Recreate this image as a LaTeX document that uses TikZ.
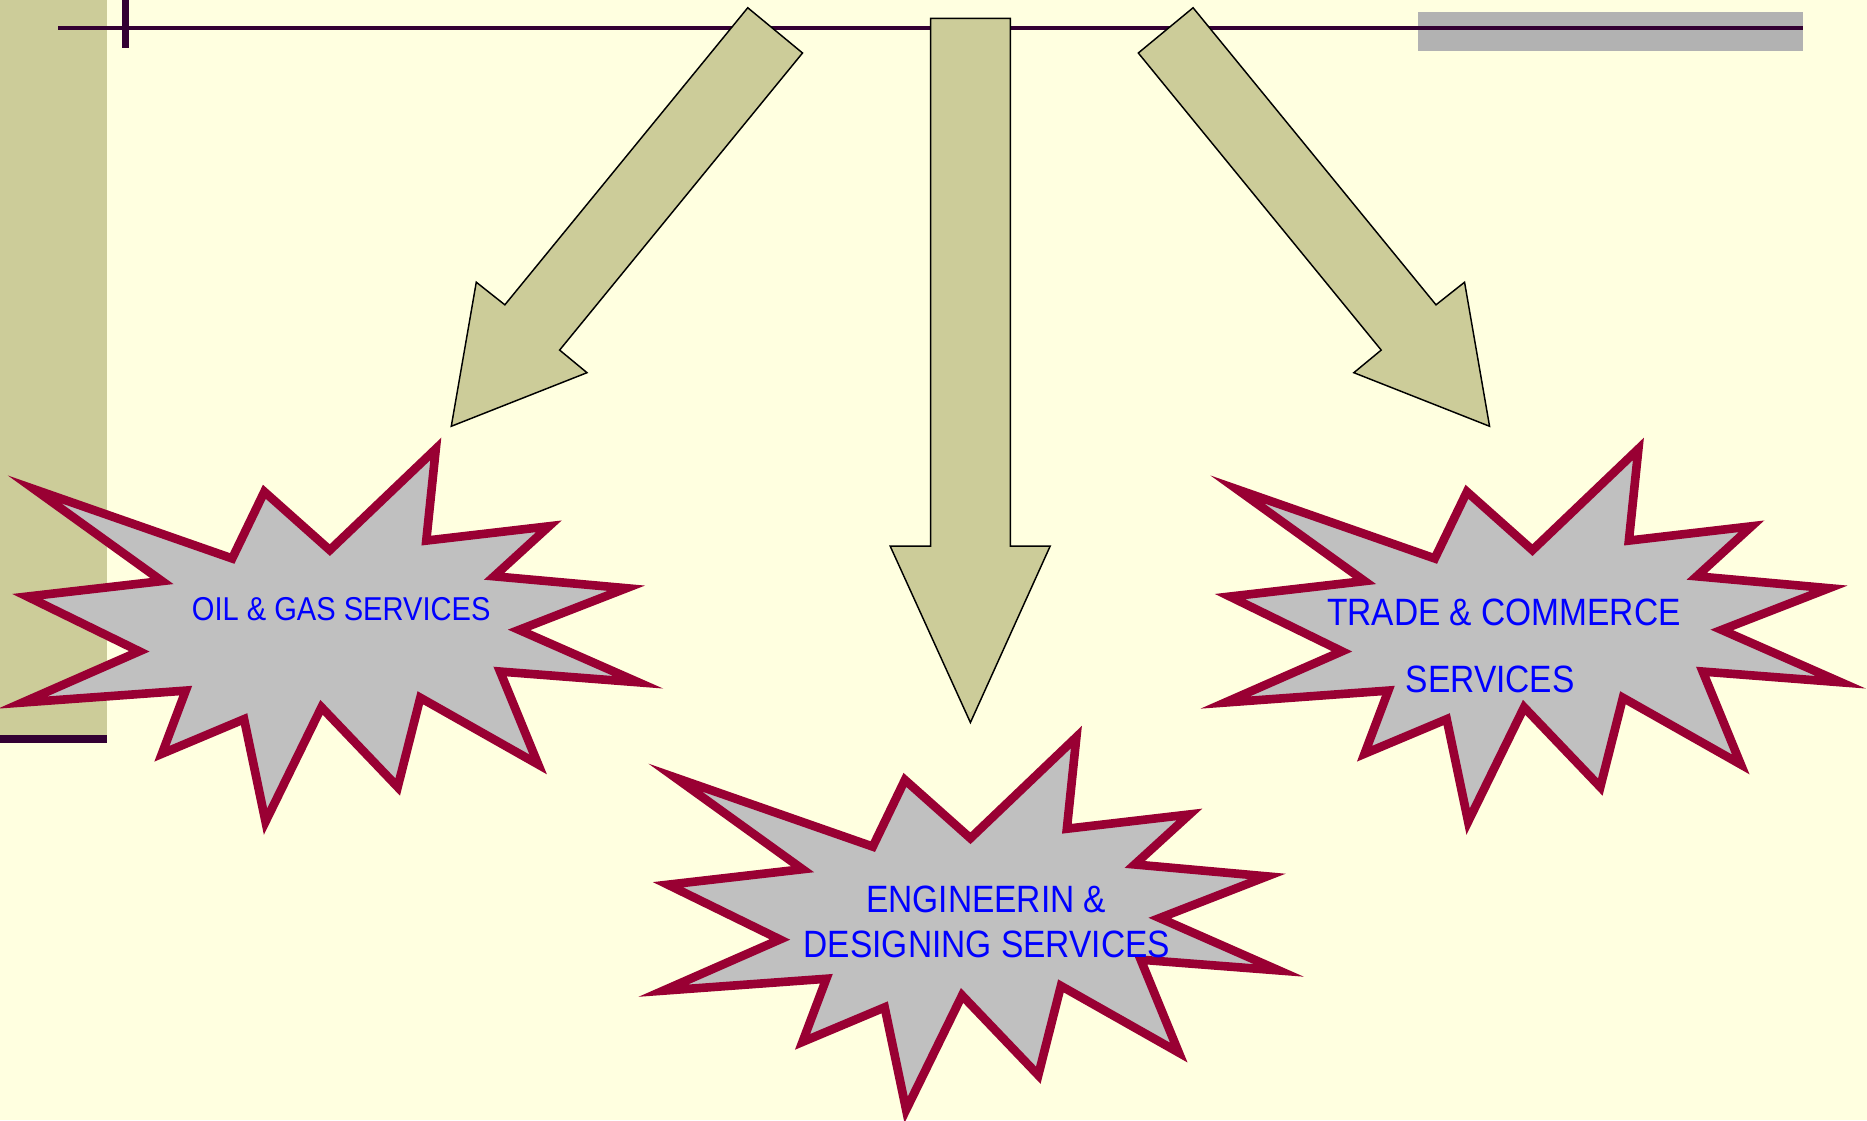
\documentclass[tikz,border=0pt]{standalone}
\usepackage{fontspec}
\newfontfamily\starfont[FakeStretch=0.88]{Liberation Sans}
\definecolor{bgyellow}{RGB}{255,255,224}
\definecolor{stripolive}{RGB}{204,204,153}
\definecolor{darkplum}{RGB}{51,0,51}
\definecolor{bargray}{RGB}{178,178,178}
\definecolor{burstgray}{RGB}{192,192,192}
\definecolor{burstred}{RGB}{153,0,51}
\definecolor{textblue}{RGB}{0,0,255}
\tikzset{
  arrowshape/.style={fill=stripolive, draw=black, line width=0.7pt, line join=miter},
  burstshape/.style={fill=burstgray, draw=burstred, line width=0.145cm, line join=miter, miter limit=12},
  burst/.pic={
    \draw[burstshape] (29,411) -- (195,469) -- (222,413) -- (277,462) -- (366,377)
      -- (358,454) -- (461,442) -- (415,484) -- (526,494) -- (436,529)
      -- (536,573) -- (420,564) -- (452,642) -- (353,586) -- (334,661)
      -- (270,594) -- (223,690) -- (205,604) -- (136,633) -- (156,580)
      -- (19,590) -- (117,547) -- (23,501) -- (136,488) -- cycle;
  },
  startext/.style={text=textblue, anchor=base, inner sep=0pt},
  smalltext/.style={startext, font=\starfont\fontsize{15.8}{18}\selectfont},
  bigtext/.style={startext, font=\starfont\fontsize{18.2}{21}\selectfont},
}
\begin{document}
\begin{tikzpicture}[x=0.02cm, y=-0.02cm]
  \useasboundingbox (0,0) rectangle (1568,941);
  \fill[bgyellow] (0,0) rectangle (1568,941);
  % left strip
  \fill[stripolive] (0,0) rectangle (90,617);
  \fill[darkplum] (0,617) rectangle (90,624);
  % top bar and line
  \fill[bargray] (1191,10) rectangle (1514.5,42.6);
  \draw[darkplum, line width=0.068cm] (49,23.5) -- (1514,23.5);
  \draw[darkplum, line width=0.11cm] (105.3,0) -- (105.3,40);
  % arrows
  \draw[arrowshape] (628,6.5) -- (674,44.5) -- (470,294) -- (493,313) -- (379,358) -- (400,237) -- (424,256) -- cycle;
  \draw[arrowshape] (1002,6.5) -- (956,44.5) -- (1160,294) -- (1137,313) -- (1251,358) -- (1230,237) -- (1206,256) -- cycle;
  \draw[arrowshape] (781.5,15.5) -- (848.5,15.5) -- (848.5,458.6) -- (882,458.6) -- (815,606.8) -- (747.6,458.6) -- (781.5,458.6) -- cycle;
  % starbursts
  \pic (oilstar) at (0,0) {burst};
  \pic (tradestar) at (1010,0) {burst};
  \pic (engstar) at (538,242) {burst};
  % texts
  \node[smalltext] (oil) at (286.5,521) {OIL \& GAS SERVICES};
  \node[bigtext] (trade1) at (1263,525) {TRADE \& COMMERCE};
  \node[bigtext] (trade2) at (1251.5,581.6) {SERVICES};
  \node[bigtext] (eng1) at (828.3,766.6) {ENGINEERIN \&};
  \node[bigtext] (eng2) at (828.8,804.4) {DESIGNING SERVICES};
\end{tikzpicture}
\end{document}
